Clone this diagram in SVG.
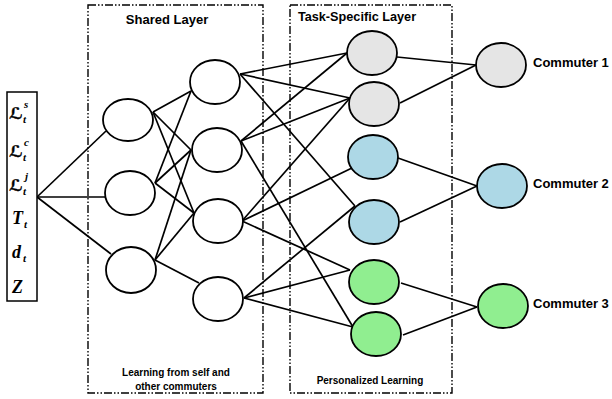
<svg xmlns="http://www.w3.org/2000/svg" width="612" height="399" viewBox="0 0 612 399">
<style>
.box{fill:none;stroke:#000;stroke-width:1.4;stroke-dasharray:8 2 1.5 2 1.5 2}
.n{stroke:#000;stroke-width:1.8}
.w{fill:#fff}
.g{fill:#e5e5e5}
.b{fill:#add8e6}
.gr{fill:#90ee90}
.e line{stroke:#000;stroke-width:1.7}
.t{font-family:"Liberation Sans",Arial,sans-serif;font-weight:bold;fill:#000}
.m{font-family:"Liberation Serif","DejaVu Serif",serif;font-weight:bold;font-style:italic;fill:#000}
.L{font-family:"DejaVu Sans","Noto Sans",sans-serif;font-weight:bold;font-style:italic;fill:#000;stroke:#000;stroke-width:0.4}
</style>
<rect class="box" x="88" y="5" width="175" height="388"/>
<rect class="box" x="290" y="5" width="162" height="388"/>
<text class="t" x="167" y="24" font-size="13" text-anchor="middle">Shared Layer</text>
<text class="t" x="357" y="21" font-size="12.7" text-anchor="middle">Task-Specific Layer</text>
<text class="t" x="176" y="376" font-size="10" text-anchor="middle">Learning from self and</text>
<text class="t" x="176" y="390" font-size="10" text-anchor="middle">other commuters</text>
<text class="t" x="370" y="384" font-size="10" text-anchor="middle">Personalized Learning</text>
<g id="connectors" class="e">
<line x1="37" y1="197" x2="106" y2="131"/>
<line x1="37" y1="197" x2="106" y2="197"/>
<line x1="37" y1="197" x2="111" y2="254"/>
<line x1="153" y1="112" x2="191" y2="91"/>
<line x1="153" y1="112" x2="191" y2="150"/>
<line x1="153" y1="112" x2="194" y2="213"/>
<line x1="155" y1="183" x2="191" y2="91"/>
<line x1="155" y1="183" x2="191" y2="150"/>
<line x1="155" y1="183" x2="194" y2="213"/>
<line x1="155" y1="260" x2="191" y2="150"/>
<line x1="155" y1="260" x2="194" y2="213"/>
<line x1="155" y1="260" x2="199" y2="283"/>
<line x1="240" y1="74" x2="347" y2="53"/>
<line x1="240" y1="74" x2="350" y2="98"/>
<line x1="240" y1="74" x2="355" y2="206"/>
<line x1="241" y1="141" x2="347" y2="53"/>
<line x1="241" y1="141" x2="350" y2="98"/>
<line x1="241" y1="141" x2="353" y2="327"/>
<line x1="242" y1="221" x2="350" y2="98"/>
<line x1="242" y1="221" x2="352" y2="168"/>
<line x1="242" y1="221" x2="350" y2="270"/>
<line x1="244" y1="298" x2="355" y2="206"/>
<line x1="244" y1="298" x2="350" y2="270"/>
<line x1="244" y1="298" x2="353" y2="327"/>
<line x1="397" y1="57" x2="476" y2="65"/>
<line x1="400" y1="103" x2="476" y2="65"/>
<line x1="398" y1="158" x2="477" y2="186"/>
<line x1="400" y1="222" x2="477" y2="186"/>
<line x1="401" y1="283" x2="477" y2="307"/>
<line x1="403" y1="335" x2="477" y2="307"/>
</g>
<g id="inputs">
<rect x="7" y="92" width="30" height="209" fill="#fff" stroke="#000" stroke-width="1.5"/>
<text class="L" x="9" y="119" font-size="16">ℒ</text><text class="m" x="24" y="108" font-size="11">s</text><text class="m" x="23" y="123" font-size="11">t</text>
<text class="L" x="9" y="157" font-size="16">ℒ</text><text class="m" x="24" y="146" font-size="11">c</text><text class="m" x="23" y="161" font-size="11">t</text>
<text class="L" x="9" y="191" font-size="16">ℒ</text><text class="m" x="25" y="180" font-size="11">j</text><text class="m" x="23" y="195" font-size="11">t</text>
<text class="m" x="12" y="224" font-size="18">T</text><text class="m" x="24" y="228" font-size="11">t</text>
<text class="m" x="12" y="258" font-size="18">d</text><text class="m" x="23" y="262" font-size="11">t</text>
<text class="m" x="12" y="293" font-size="18">Z</text>
</g>
<g id="h1"><ellipse class="n w" cx="128" cy="120" rx="25" ry="21"/></g>
<g id="h2"><ellipse class="n w" cx="130" cy="193" rx="25" ry="22"/></g>
<g id="h3"><ellipse class="n w" cx="131" cy="270" rx="25" ry="23"/></g>
<g id="s1"><ellipse class="n w" cx="215" cy="82" rx="25" ry="22"/></g>
<g id="s2"><ellipse class="n w" cx="217" cy="150" rx="25" ry="22"/></g>
<g id="s3"><ellipse class="n w" cx="218" cy="221" rx="25" ry="22"/></g>
<g id="s4"><ellipse class="n w" cx="218" cy="299" rx="25" ry="22"/></g>
<g id="t1"><ellipse class="n g" cx="372" cy="53" rx="25" ry="22"/></g>
<g id="t2"><ellipse class="n g" cx="374" cy="104" rx="25" ry="22"/></g>
<g id="t3"><ellipse class="n b" cx="373" cy="157" rx="25" ry="22"/></g>
<g id="t4"><ellipse class="n b" cx="374" cy="222" rx="25" ry="22"/></g>
<g id="t5"><ellipse class="n gr" cx="374" cy="282" rx="25" ry="22"/></g>
<g id="t6"><ellipse class="n gr" cx="376" cy="334" rx="25" ry="22"/></g>
<g id="c1"><ellipse class="n g" cx="501" cy="65" rx="25" ry="22"/><text class="t" x="533" y="67" font-size="13">Commuter 1</text></g>
<g id="c2"><ellipse class="n b" cx="502" cy="186" rx="25" ry="22"/><text class="t" x="533" y="188" font-size="13">Commuter 2</text></g>
<g id="c3"><ellipse class="n gr" cx="503" cy="306" rx="25" ry="22"/><text class="t" x="533" y="308" font-size="13">Commuter 3</text></g>
</svg>
